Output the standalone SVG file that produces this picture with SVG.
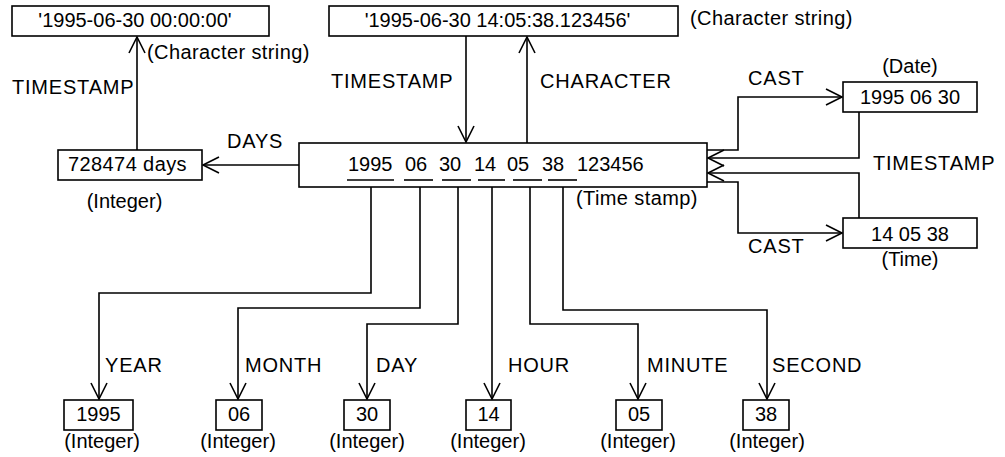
<svg xmlns="http://www.w3.org/2000/svg" width="1005" height="457" viewBox="0 0 1005 457">
<style>
text{font-family:"Liberation Sans",Arial,sans-serif;font-size:20px;fill:#000}
.lb{letter-spacing:0.8px}
.lc{letter-spacing:0.4px}
.m{text-anchor:middle}
rect{fill:#fff;stroke:#000;stroke-width:1.6}
.c path,.c line{fill:none;stroke:#000;stroke-width:1.6}
</style>
<defs>
<marker id="ah" markerUnits="userSpaceOnUse" markerWidth="20" markerHeight="20" viewBox="-18 -10 20 20" refX="0" refY="0" orient="auto" overflow="visible">
<path d="M-16,-8 L0,0 L-16,8" fill="none" stroke="#000" stroke-width="1.6"/>
</marker>
</defs>
<rect x="0" y="0" width="1005" height="457" style="stroke:none;fill:#fff"/>
<g class="c" id="connectors">
<path d="M137,150 V37" marker-end="url(#ah)"/>
<path d="M299,165 H203" marker-end="url(#ah)"/>
<path d="M466,36 V142" marker-end="url(#ah)"/>
<path d="M527,143 V37" marker-end="url(#ah)"/>
<path d="M707,150 H738 V97 H842" marker-end="url(#ah)"/>
<path d="M859,112 V158 H708" marker-end="url(#ah)"/>
<path d="M859,218 V173 H708" marker-end="url(#ah)"/>
<path d="M707,182 H738 V233 H842" marker-end="url(#ah)"/>
<path d="M371,180 V293 H99 V399" marker-end="url(#ah)"/>
<path d="M420,180 V308 H238 V399" marker-end="url(#ah)"/>
<path d="M458,180 V324 H367 V399" marker-end="url(#ah)"/>
<path d="M492,180 V399" marker-end="url(#ah)"/>
<path d="M530,180 V324 H638 V399" marker-end="url(#ah)"/>
<path d="M563,180 V310 H767 V399" marker-end="url(#ah)"/>
<text class="lb" x="12" y="94">TIMESTAMP</text>
<text class="lb" x="227" y="148">DAYS</text>
<text class="lb" x="331" y="88">TIMESTAMP</text>
<text class="lb" x="540" y="88">CHARACTER</text>
<text class="lb" x="748" y="85">CAST</text>
<text class="lb" x="873" y="170">TIMESTAMP</text>
<text class="lb" x="748" y="253">CAST</text>
<text class="lb" x="105" y="372">YEAR</text>
<text class="lb" x="245" y="372">MONTH</text>
<text class="lb" x="376" y="372">DAY</text>
<text class="lb" x="508" y="372">HOUR</text>
<text class="lb" x="647" y="372">MINUTE</text>
<text class="lb" x="772" y="372">SECOND</text>
</g>
<g id="ts-string0">
<rect x="12" y="6" width="257" height="30"/>
<text class="m" x="135" y="27">'1995-06-30 00:00:00'</text>
<text class="lc" x="147" y="59">(Character string)</text>
</g>
<g id="ts-string">
<rect x="329" y="6" width="349" height="30"/>
<text class="m" x="497.5" y="27">'1995-06-30 14:05:38.123456'</text>
<text class="lc" x="690" y="25">(Character string)</text>
</g>
<g id="days">
<rect x="58" y="150" width="144" height="30"/>
<text class="m lc" x="127.5" y="171">728474 days</text>
<text class="m" x="124.5" y="208">(Integer)</text>
</g>
<g id="timestamp">
<rect x="299" y="143" width="408" height="44"/>
<text x="348" y="171">1995</text>
<text x="405" y="171">06</text>
<text x="439" y="171">30</text>
<text x="474" y="171">14</text>
<text x="507" y="171">05</text>
<text x="542" y="171">38</text>
<text x="577" y="171">123456</text>
<g class="c">
<line x1="347" y1="180" x2="394" y2="180"/>
<line x1="404" y1="180" x2="433" y2="180"/>
<line x1="442" y1="180" x2="471" y2="180"/>
<line x1="478" y1="180" x2="505" y2="180"/>
<line x1="513" y1="180" x2="542" y2="180"/>
<line x1="548" y1="180" x2="577" y2="180"/>
</g>
<text class="lc" x="576" y="205">(Time stamp)</text>
</g>
<g id="date">
<text class="m" x="910" y="73">(Date)</text>
<rect x="843" y="82" width="134" height="30"/>
<text class="m" x="910" y="104">1995 06 30</text>
</g>
<g id="time">
<rect x="843" y="218" width="134" height="30"/>
<text class="m" x="910" y="241">14 05 38</text>
<text class="m" x="910" y="266">(Time)</text>
</g>
<g id="year">
<rect x="64" y="400" width="69" height="30"/>
<text class="m" x="98.5" y="421">1995</text>
<text class="m" x="102" y="448">(Integer)</text>
</g>
<g id="month">
<rect x="216" y="400" width="46" height="30"/>
<text class="m" x="239" y="421">06</text>
<text class="m" x="238" y="448">(Integer)</text>
</g>
<g id="day">
<rect x="344" y="400" width="46" height="30"/>
<text class="m" x="367" y="421">30</text>
<text class="m" x="367" y="448">(Integer)</text>
</g>
<g id="hour">
<rect x="466" y="400" width="45" height="30"/>
<text class="m" x="488.5" y="421">14</text>
<text class="m" x="488" y="448">(Integer)</text>
</g>
<g id="minute">
<rect x="616" y="400" width="46" height="30"/>
<text class="m" x="639" y="421">05</text>
<text class="m" x="638" y="448">(Integer)</text>
</g>
<g id="second">
<rect x="743" y="400" width="46" height="30"/>
<text class="m" x="766" y="421">38</text>
<text class="m" x="767" y="448">(Integer)</text>
</g>
</svg>
